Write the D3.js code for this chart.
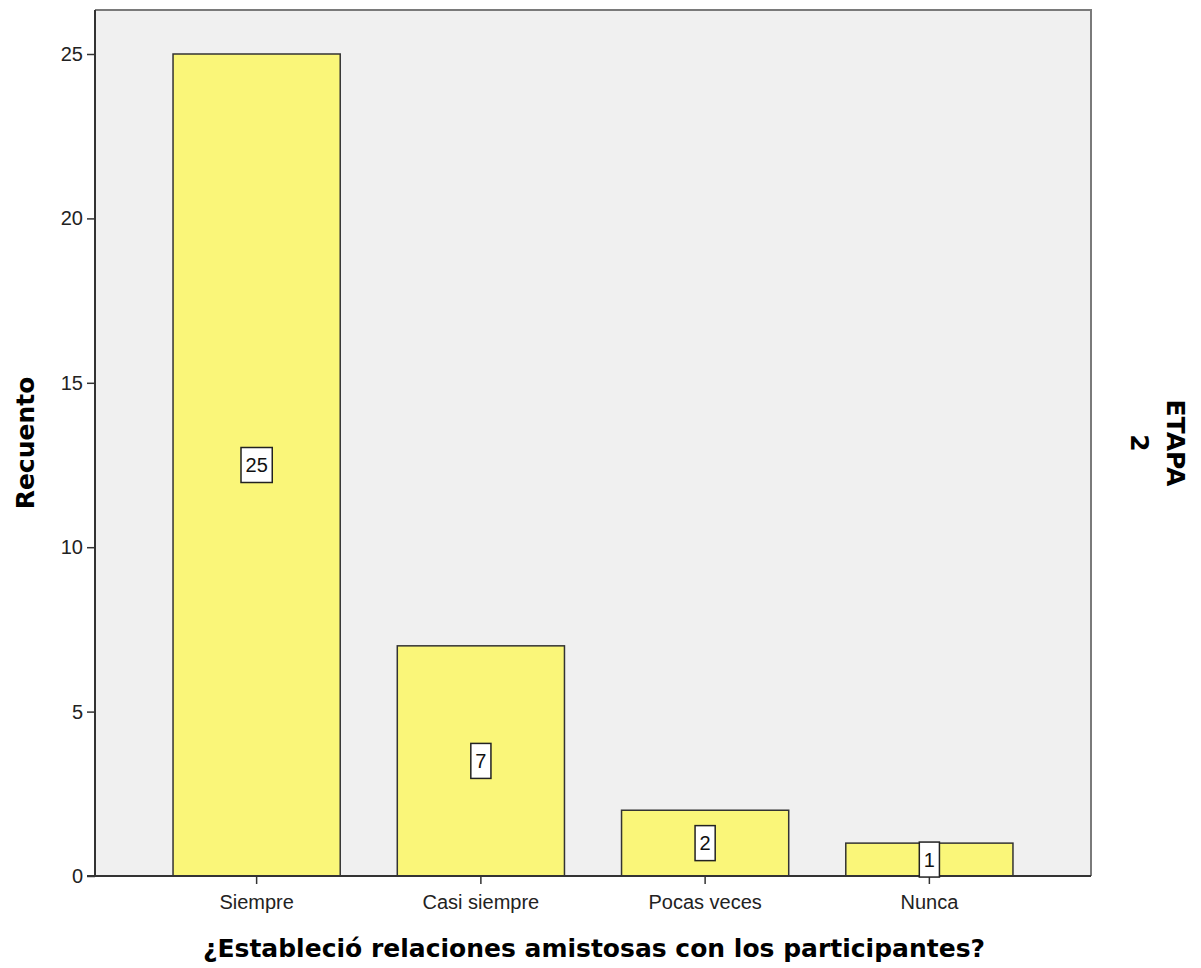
<!DOCTYPE html>
<html><head><meta charset="utf-8">
<script src="https://cdn.jsdelivr.net/npm/d3@7"></script>
<style>body{margin:0;background:#fff}svg{display:block}</style>
</head><body>
<script>
const categories = ["Siempre", "Casi siempre", "Pocas veces", "Nunca"];
const counts = [25, 7, 2, 1];
const yTicks = [0, 5, 10, 15, 20, 25];
const xTitle = "¿Estableció relaciones amistosas con los participantes?";
const yTitle = "Recuento";
const panelTitle = "ETAPA";
const panelValue = "2";

const W = 1201, H = 968;
const L = 95, R = 1091, T = 10, B = 876;
const svg = d3.select("body").append("svg").attr("width", W).attr("height", H);

const x = d3.scaleBand().domain(categories).range([L, R]).paddingInner(0.2545).paddingOuter(0.348);
const y = d3.scaleLinear().domain([0, 25]).range([B, 54]);

svg.append("rect").attr("x", L).attr("y", T).attr("width", R - L).attr("height", B - T).attr("fill", "#f0f0f0");
svg.append("path").attr("d", `M${L},${T}H${R}V${B}`).attr("fill", "none").attr("stroke", "#7a7a7a").attr("stroke-width", 2);

svg.append("g").selectAll("rect").data(categories).join("rect")
  .attr("x", d => x(d)).attr("width", x.bandwidth())
  .attr("y", (d, i) => y(counts[i])).attr("height", (d, i) => y(0) - y(counts[i]))
  .attr("fill", "#faf679").attr("stroke", "#333").attr("stroke-width", 1.5);

const yAxis = svg.append("g").attr("transform", `translate(${L},0)`)
  .call(d3.axisLeft(y).tickValues(yTicks).tickSize(8).tickPadding(4));
const xAxis = svg.append("g").attr("transform", `translate(0,${B})`)
  .call(d3.axisBottom(x).tickSize(8).tickPadding(11));
[yAxis, xAxis].forEach(g => {
  g.select(".domain").attr("stroke", "#333").attr("stroke-width", 2);
  g.selectAll(".tick line").attr("stroke", "#333").attr("stroke-width", 1.5);
  g.selectAll(".tick text").attr("fill", "#222").style("font-family", "Liberation Sans, Arial, sans-serif").style("font-size", "20px");
});
yAxis.select(".domain").attr("d", `M-8,${B}H0V${T}`);
xAxis.select(".domain").attr("d", `M${L},0H${R}`);

const lab = svg.append("g").selectAll("g").data(categories).join("g")
  .attr("transform", (d, i) => `translate(${x(d) + x.bandwidth() / 2},${y(counts[i] / 2)})`);
lab.append("text").text((d, i) => counts[i])
  .attr("text-anchor", "middle").attr("dy", "0.36em")
  .style("font-family", "Liberation Sans, Arial, sans-serif").style("font-size", "20px").attr("fill", "#111");
lab.each(function () {
  const g = d3.select(this), t = g.select("text"), bb = t.node().getBBox();
  g.insert("rect", "text").attr("x", bb.x - 4.5).attr("y", -17.5).attr("width", bb.width + 9).attr("height", 35)
    .attr("fill", "#fff").attr("stroke", "#222").attr("stroke-width", 1.5);
});

const tf = "DejaVu Sans, sans-serif";
svg.append("text").text(xTitle).attr("x", (L + R) / 2 + 1).attr("y", 957).attr("text-anchor", "middle")
  .style("font-family", tf).style("font-weight", "bold").style("font-size", "25px").attr("fill", "#000");
svg.append("text").text(yTitle).attr("transform", `translate(34,${(T + B) / 2}) rotate(-90)`).attr("text-anchor", "middle")
  .style("font-family", tf).style("font-weight", "bold").style("font-size", "25px").attr("fill", "#000");
svg.append("text").text(panelTitle).attr("transform", `translate(1167,${(T + B) / 2}) rotate(90)`).attr("text-anchor", "middle")
  .style("font-family", tf).style("font-weight", "bold").style("font-size", "25px").attr("fill", "#000");
svg.append("text").text(panelValue).attr("transform", `translate(1131,${(T + B) / 2}) rotate(90)`).attr("text-anchor", "middle")
  .style("font-family", tf).style("font-weight", "bold").style("font-size", "25px").attr("fill", "#000");
</script>
</body></html>
